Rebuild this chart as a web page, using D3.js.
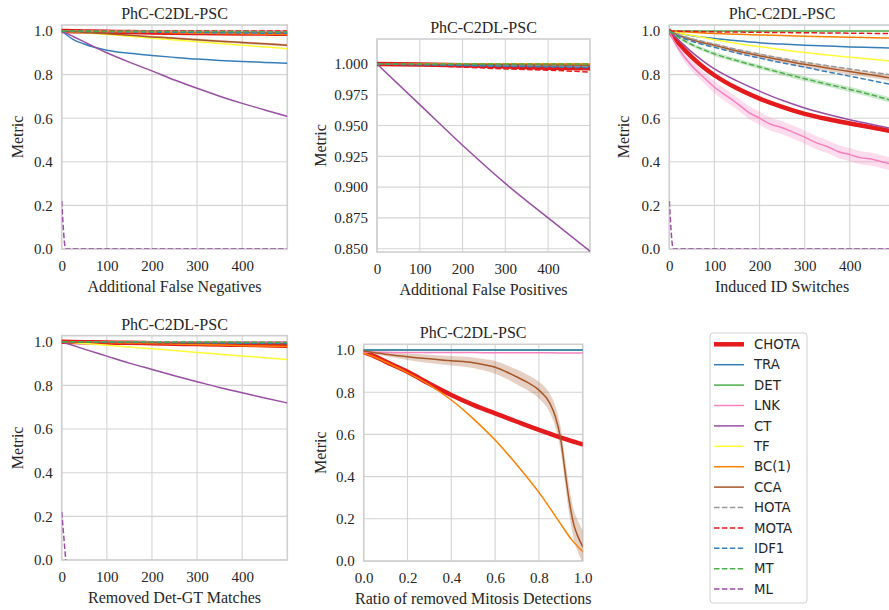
<!DOCTYPE html>
<html><head><meta charset="utf-8">
<script src="https://cdn.jsdelivr.net/npm/d3@7"></script>
<style>body{margin:0;background:#fff;} svg{display:block;}</style>
</head><body>
<svg id="c" width="889" height="610"></svg>
<script>
// ---------------- DATA ----------------
const metricNames = ["CHOTA","TRA","DET","LNK","CT","TF","BC(1)","CCA","HOTA","MOTA","IDF1","MT","ML"];
const panelTitle = "PhC-C2DL-PSC";

// Panel 1: Additional False Negatives
const fnX = [0,25,50,100,150,200,250,300,350,400,450,499];
const fnCHOTA = [1.0,0.999,0.998,0.996,0.995,0.993,0.992,0.991,0.990,0.989,0.988,0.987];
const fnTRA   = [1.0,0.962,0.940,0.912,0.898,0.888,0.879,0.871,0.865,0.860,0.856,0.852];
const fnDET   = [1.0,1.0,0.999,0.999,0.999,0.998,0.998,0.998,0.997,0.997,0.997,0.996];
const fnLNK   = [1.0,1.0,1.0,1.0,1.0,1.0,1.0,1.0,1.0,1.0,1.0,1.0];
const fnCT    = [1.0,0.975,0.950,0.900,0.857,0.817,0.775,0.737,0.701,0.668,0.638,0.609];
const fnTF    = [1.0,0.996,0.992,0.984,0.976,0.967,0.959,0.951,0.943,0.935,0.927,0.919];
const fnBC    = [1.0,0.999,0.998,0.997,0.995,0.994,0.992,0.990,0.989,0.987,0.986,0.984];
const fnCCA   = [1.0,0.997,0.993,0.987,0.980,0.973,0.967,0.960,0.953,0.947,0.941,0.935];
const fnCCAsd = [0,0.002,0.003,0.004,0.005,0.005,0.006,0.006,0.006,0.006,0.006,0.006];
const fnHOTA  = [1.0,0.999,0.999,0.998,0.997,0.996,0.995,0.994,0.993,0.993,0.992,0.991];
const fnMOTA  = [1.0,1.0,1.0,1.0,1.0,1.0,1.0,1.0,1.0,1.0,1.0,1.0];
const fnIDF1  = [1.0,0.999,0.998,0.997,0.996,0.995,0.994,0.993,0.992,0.991,0.990,0.989];
const fnMT    = [1.0,1.0,1.0,0.999,0.999,0.999,0.998,0.998,0.998,0.998,0.997,0.997];
const mlX = [0,9,499];
const mlY = [0.22,0,0];

// Panel 2: Additional False Positives
const fpX = [0,100,200,300,400,498];
const fpCHOTA = [1.0,0.9995,0.999,0.998,0.997,0.9965];
const fpTRA   = [1.0,0.9996,0.9992,0.9988,0.9984,0.998];
const fpDET   = [1.0,0.9999,0.9998,0.9997,0.9996,0.9995];
const fpLNK   = [1.0,1.0,1.0,1.0,1.0,1.0];
const fpCT    = [1.0,0.967,0.934,0.903,0.875,0.848];
const fpTF    = [1.0,1.0,1.0,1.0,1.0,1.0];
const fpBC    = [1.0,1.0,1.0,1.0,1.0,1.0];
const fpCCA   = [1.0,0.9998,0.9996,0.9994,0.9992,0.999];
const fpHOTA  = [1.0,0.9995,0.999,0.9986,0.9982,0.9978];
const fpMOTA  = [1.0,0.999,0.9975,0.996,0.995,0.9935];
const fpIDF1  = [1.0,0.9994,0.9988,0.9982,0.9976,0.997];
const fpMT    = [1.0,1.0,1.0,1.0,1.0,1.0];

// Panel 3: Induced ID Switches
const idsX = [0,10,25,50,75,100,150,200,250,300,350,400,450,499];
const idsCHOTA = [1.0,0.972,0.935,0.880,0.835,0.797,0.737,0.690,0.652,0.620,0.596,0.576,0.557,0.538];
const idsCHOTAsd=[0,0.004,0.006,0.007,0.008,0.008,0.008,0.009,0.009,0.009,0.009,0.009,0.009,0.009];
const idsTRA   = [1.0,0.995,0.988,0.978,0.971,0.966,0.955,0.946,0.940,0.935,0.931,0.927,0.924,0.921];
const idsDET   = [1.0,1.0,1.0,1.0,1.0,1.0,1.0,1.0,1.0,1.0,1.0,1.0,1.0,1.0];
const idsLNKx  = [0,10,25,50,75,100,125,150,175,200,225,250,275,300,325,350,375,400,425,450,475,499];
const idsLNK   = [1.0,0.955,0.905,0.840,0.790,0.742,0.705,0.668,0.628,0.600,0.572,0.556,0.535,0.513,0.488,0.470,0.446,0.433,0.418,0.412,0.398,0.386];
const idsLNKsd = [0,0.010,0.018,0.022,0.025,0.027,0.028,0.028,0.029,0.030,0.030,0.030,0.030,0.030,0.030,0.030,0.030,0.030,0.030,0.030,0.030,0.030];
const idsCT    = [1.0,0.980,0.950,0.903,0.862,0.826,0.771,0.724,0.682,0.647,0.618,0.593,0.571,0.550];
const idsTF    = [1.0,0.997,0.990,0.980,0.970,0.960,0.943,0.928,0.914,0.901,0.890,0.880,0.870,0.860];
const idsBC    = [1.0,0.999,0.997,0.994,0.991,0.989,0.985,0.982,0.979,0.976,0.974,0.971,0.969,0.967];
const idsCCA   = [1.0,0.990,0.977,0.960,0.946,0.934,0.908,0.886,0.866,0.847,0.830,0.814,0.798,0.782];
const idsCCAsd = [0,0.003,0.006,0.008,0.009,0.010,0.011,0.012,0.012,0.013,0.013,0.013,0.014,0.014];
const idsHOTA  = [1.0,0.992,0.980,0.965,0.952,0.940,0.915,0.894,0.874,0.857,0.841,0.826,0.811,0.797];
const idsMOTA  = [1.0,1.0,0.999,0.998,0.997,0.996,0.995,0.994,0.993,0.992,0.991,0.990,0.989,0.988];
const idsIDF1  = [1.0,0.988,0.972,0.953,0.938,0.925,0.899,0.876,0.854,0.834,0.813,0.793,0.772,0.752];
const idsMT    = [1.0,0.985,0.965,0.937,0.915,0.895,0.864,0.835,0.807,0.781,0.756,0.732,0.706,0.678];
const idsMTsd  = [0,0.003,0.006,0.008,0.009,0.010,0.010,0.010,0.011,0.011,0.011,0.012,0.012,0.012];

// Panel 4: Removed Det-GT Matches
const rmX = [0,50,100,150,200,250,300,350,400,450,499];
const rmCHOTA = [1.0,0.998,0.996,0.995,0.993,0.991,0.989,0.987,0.986,0.984,0.982];
const rmTRA   = [1.0,1.0,0.999,0.999,0.998,0.998,0.997,0.997,0.996,0.996,0.995];
const rmDET   = [1.0,1.0,0.999,0.999,0.999,0.998,0.998,0.998,0.997,0.997,0.997];
const rmLNK   = [1.0,1.0,1.0,1.0,1.0,1.0,1.0,1.0,1.0,1.0,1.0];
const rmCT    = [1.0,0.966,0.934,0.902,0.873,0.844,0.817,0.790,0.766,0.742,0.720];
const rmTF    = [1.0,0.992,0.984,0.976,0.968,0.960,0.951,0.943,0.935,0.927,0.918];
const rmBC    = [1.0,0.998,0.996,0.994,0.992,0.989,0.987,0.985,0.982,0.980,0.978];
const rmCCA   = [1.0,0.999,0.998,0.997,0.996,0.995,0.994,0.993,0.992,0.991,0.990];
const rmHOTA  = [1.0,1.0,0.999,0.999,0.998,0.998,0.997,0.997,0.996,0.996,0.995];
const rmMOTA  = [1.0,0.999,0.998,0.997,0.996,0.995,0.994,0.993,0.992,0.991,0.990];
const rmIDF1  = [1.0,0.999,0.998,0.998,0.997,0.996,0.995,0.994,0.993,0.993,0.992];
const rmMT    = [1.0,1.0,1.0,1.0,0.999,0.999,0.999,0.999,0.998,0.998,0.998];
const rmMLx = [0,9];
const rmMLy = [0.22,0];

// Panel 5: Ratio of removed Mitosis Detections
const mitX = [0,0.05,0.1,0.2,0.3,0.4,0.5,0.6,0.7,0.8,0.9,0.95,1.0];
const mitCHOTA = [0.990,0.970,0.945,0.897,0.840,0.787,0.740,0.700,0.660,0.621,0.585,0.568,0.553];
const mitTRA   = [1.0,1.0,1.0,1.0,1.0,1.0,1.0,1.0,1.0,1.0,1.0,1.0,1.0];
const mitDET   = [1.0,1.0,1.0,1.0,1.0,1.0,1.0,1.0,1.0,1.0,1.0,1.0,1.0];
const mitLNK   = [0.989,0.989,0.989,0.988,0.988,0.988,0.988,0.987,0.987,0.987,0.986,0.986,0.986];
const mitBC    = [0.985,0.967,0.943,0.893,0.835,0.763,0.675,0.573,0.455,0.325,0.175,0.100,0.045];
const mitCCAx  = [0,0.1,0.2,0.3,0.4,0.5,0.55,0.6,0.65,0.7,0.75,0.8,0.85,0.875,0.9,0.92,0.94,0.96,0.98,1.0];
const mitCCA   = [0.995,0.980,0.968,0.958,0.949,0.940,0.930,0.918,0.897,0.872,0.845,0.810,0.748,0.685,0.575,0.420,0.275,0.170,0.112,0.068];
const mitCCAsd = [0.005,0.010,0.015,0.020,0.022,0.025,0.027,0.030,0.032,0.035,0.037,0.040,0.045,0.050,0.055,0.060,0.065,0.070,0.075,0.075];

const ticks500 = [0,100,200,300,400];
const ticksUnit = [0,0.2,0.4,0.6,0.8,1.0];
const ticksFP = [0.850,0.875,0.900,0.925,0.950,0.975,1.000];

// ---------------- STYLE ----------------
const DASH = "5.5,2.4";
const style = {
  "CHOTA":{c:"#e41a1c",w:4.5}, "TRA":{c:"#377eb8",w:1.5}, "DET":{c:"#4daf4a",w:1.5},
  "LNK":{c:"#f781bf",w:1.5}, "CT":{c:"#984ea3",w:1.5}, "TF":{c:"#ffff33",w:1.5},
  "BC(1)":{c:"#ff7f00",w:1.5}, "CCA":{c:"#a65628",w:1.5}, "HOTA":{c:"#999999",w:1.5,d:DASH},
  "MOTA":{c:"#e41a1c",w:1.5,d:DASH}, "IDF1":{c:"#377eb8",w:1.5,d:DASH}, "MT":{c:"#4daf4a",w:1.5,d:DASH},
  "ML":{c:"#984ea3",w:1.5,d:DASH}
};
const TXT = "#262626";
const SERIF = "'Liberation Serif','Times New Roman',serif";

const svg = d3.select("#c");
let clipId = 0;

function panel(cfg){
  const g = svg.append("g");
  const x = d3.scaleLinear().domain(cfg.xd).range([cfg.l, cfg.l+cfg.w]);
  const y = d3.scaleLinear().domain(cfg.yd).range([cfg.t+cfg.h, cfg.t]);
  // grid
  g.append("g").selectAll("line").data(cfg.xt).join("line")
    .attr("x1",d=>x(d)).attr("x2",d=>x(d)).attr("y1",cfg.t).attr("y2",cfg.t+cfg.h)
    .attr("stroke","#d4d4d4").attr("stroke-width",1.1);
  g.append("g").selectAll("line").data(cfg.yt).join("line")
    .attr("y1",d=>y(d)).attr("y2",d=>y(d)).attr("x1",cfg.l).attr("x2",cfg.l+cfg.w)
    .attr("stroke","#d4d4d4").attr("stroke-width",1.1);
  // spines
  g.append("rect").attr("x",cfg.l).attr("y",cfg.t).attr("width",cfg.w).attr("height",cfg.h)
    .attr("fill","none").attr("stroke","#cfcfcf").attr("stroke-width",1.6);
  // clip
  const id = "clip"+(clipId++);
  svg.append("clipPath").attr("id",id).append("rect")
    .attr("x",cfg.l).attr("y",cfg.t-1).attr("width",cfg.w).attr("height",cfg.h+1);
  const pg = g.append("g").attr("clip-path",`url(#${id})`);
  cfg.series.forEach(s=>{
    const st = style[s.name];
    const pts = s.x.map((xv,i)=>({x:xv,y:s.y[i],sd:s.sd?s.sd[i]:0}));
    if (s.sd){
      pg.append("path").datum(pts)
        .attr("d", d3.area().x(d=>x(d.x)).y0(d=>y(d.y-d.sd)).y1(d=>y(d.y+d.sd)).curve(d3.curveMonotoneX))
        .attr("fill", st.c).attr("fill-opacity",0.28).attr("stroke","none");
    }
  });
  cfg.series.forEach(s=>{
    const st = style[s.name];
    const pts = s.x.map((xv,i)=>({x:xv,y:s.y[i]}));
    pg.append("path").datum(pts)
      .attr("d", d3.line().x(d=>x(d.x)).y(d=>y(d.y)).curve(d3.curveMonotoneX))
      .attr("fill","none").attr("stroke",st.c).attr("stroke-width",st.w)
      .attr("stroke-dasharray",st.d||null).attr("stroke-linecap", st.d?"butt":"round")
      .attr("stroke-linejoin","round");
  });
  // axes
  const ax = g.append("g").attr("transform",`translate(0,${cfg.t+cfg.h})`)
    .call(d3.axisBottom(x).tickValues(cfg.xt).tickFormat(cfg.xf).tickSize(0).tickPadding(11.5));
  const ay = g.append("g").attr("transform",`translate(${cfg.l},0)`)
    .call(d3.axisLeft(y).tickValues(cfg.yt).tickFormat(cfg.yf).tickSize(0).tickPadding(9));
  [ax,ay].forEach(a=>{
    a.select(".domain").remove();
    a.attr("font-family",SERIF).attr("font-size",15);
    a.selectAll("text").attr("font-family",SERIF).attr("font-size",15).attr("fill",TXT);
  });
  // title & labels
  g.append("text").attr("x",cfg.l+cfg.w/2).attr("y",cfg.t-6).attr("text-anchor","middle")
    .attr("font-family",SERIF).attr("font-size",16).attr("fill",TXT).text(cfg.title);
  g.append("text").attr("x",cfg.l+cfg.w/2).attr("y",cfg.t+cfg.h+43).attr("text-anchor","middle")
    .attr("font-family",SERIF).attr("font-size",16).attr("fill",TXT).text(cfg.xlabel);
  g.append("text").attr("transform",`translate(${cfg.l-cfg.ylo},${cfg.t+cfg.h/2}) rotate(-90)`)
    .attr("text-anchor","middle")
    .attr("font-family",SERIF).attr("font-size",16).attr("fill",TXT).text("Metric");
}

const f1 = d3.format(".1f"), f0 = d3.format("d"), f3 = d3.format(".3f");

panel({l:61.7,t:25,w:225.6,h:224,xd:[0,500],yd:[0,1.0275],xt:ticks500,yt:ticksUnit,xf:f0,yf:f1,
  title:panelTitle,xlabel:"Additional False Negatives",ylo:39,
  series:[
    {name:"CHOTA",x:fnX,y:fnCHOTA},{name:"TRA",x:fnX,y:fnTRA},{name:"DET",x:fnX,y:fnDET},
    {name:"LNK",x:fnX,y:fnLNK},{name:"CT",x:fnX,y:fnCT},{name:"TF",x:fnX,y:fnTF},
    {name:"BC(1)",x:fnX,y:fnBC},{name:"CCA",x:fnX,y:fnCCA,sd:fnCCAsd},{name:"HOTA",x:fnX,y:fnHOTA},
    {name:"MOTA",x:fnX,y:fnMOTA},{name:"IDF1",x:fnX,y:fnIDF1},{name:"MT",x:fnX,y:fnMT},
    {name:"ML",x:mlX,y:mlY}
  ]});

panel({l:377,t:39,w:213,h:213,xd:[0,498],yd:[0.8473,1.0203],xt:ticks500,yt:ticksFP,xf:f0,yf:f3,
  title:panelTitle,xlabel:"Additional False Positives",ylo:51,
  series:[
    {name:"CHOTA",x:fpX,y:fpCHOTA},{name:"TRA",x:fpX,y:fpTRA},{name:"DET",x:fpX,y:fpDET},
    {name:"LNK",x:fpX,y:fpLNK},{name:"CT",x:fpX,y:fpCT},{name:"TF",x:fpX,y:fpTF},
    {name:"BC(1)",x:fpX,y:fpBC},{name:"CCA",x:fpX,y:fpCCA},{name:"HOTA",x:fpX,y:fpHOTA},
    {name:"MOTA",x:fpX,y:fpMOTA},{name:"IDF1",x:fpX,y:fpIDF1},{name:"MT",x:fpX,y:fpMT}
  ]});

panel({l:669.3,t:25,w:225.6,h:224,xd:[0,500],yd:[0,1.0275],xt:ticks500,yt:ticksUnit,xf:f0,yf:f1,
  title:panelTitle,xlabel:"Induced ID Switches",ylo:40,
  series:[
    {name:"CHOTA",x:idsX,y:idsCHOTA,sd:idsCHOTAsd},{name:"TRA",x:idsX,y:idsTRA},{name:"DET",x:idsX,y:idsDET},
    {name:"LNK",x:idsLNKx,y:idsLNK,sd:idsLNKsd},{name:"CT",x:idsX,y:idsCT},{name:"TF",x:idsX,y:idsTF},
    {name:"BC(1)",x:idsX,y:idsBC},{name:"CCA",x:idsX,y:idsCCA,sd:idsCCAsd},{name:"HOTA",x:idsX,y:idsHOTA},
    {name:"MOTA",x:idsX,y:idsMOTA},{name:"IDF1",x:idsX,y:idsIDF1},{name:"MT",x:idsX,y:idsMT,sd:idsMTsd},
    {name:"ML",x:mlX,y:mlY}
  ]});

panel({l:61.7,t:335.7,w:225.6,h:224.3,xd:[0,500],yd:[0,1.0275],xt:ticks500,yt:ticksUnit,xf:f0,yf:f1,
  title:panelTitle,xlabel:"Removed Det-GT Matches",ylo:38.5,
  series:[
    {name:"CHOTA",x:rmX,y:rmCHOTA},{name:"TRA",x:rmX,y:rmTRA},{name:"DET",x:rmX,y:rmDET},
    {name:"LNK",x:rmX,y:rmLNK},{name:"CT",x:rmX,y:rmCT},{name:"TF",x:rmX,y:rmTF},
    {name:"BC(1)",x:rmX,y:rmBC},{name:"CCA",x:rmX,y:rmCCA},{name:"HOTA",x:rmX,y:rmHOTA},
    {name:"MOTA",x:rmX,y:rmMOTA},{name:"IDF1",x:rmX,y:rmIDF1},{name:"MT",x:rmX,y:rmMT},
    {name:"ML",x:rmMLx,y:rmMLy}
  ]});

panel({l:363.7,t:344.3,w:219,h:216.7,xd:[0,1],yd:[0,1.027],xt:ticksUnit,yt:ticksUnit,xf:f1,yf:f1,
  title:panelTitle,xlabel:"Ratio of removed Mitosis Detections",ylo:38,
  series:[
    {name:"CHOTA",x:mitX,y:mitCHOTA},{name:"DET",x:mitX,y:mitDET},{name:"TRA",x:mitX,y:mitTRA},
    {name:"LNK",x:mitX,y:mitLNK},{name:"BC(1)",x:mitX,y:mitBC},
    {name:"CCA",x:mitCCAx,y:mitCCA,sd:mitCCAsd}
  ]});

// ---------------- LEGEND ----------------
const leg = svg.append("g");
leg.append("rect").attr("x",710).attr("y",333).attr("width",97).attr("height",270).attr("rx",3)
  .attr("fill","#fff").attr("stroke","#d0d0d0").attr("stroke-width",1);
const items = leg.selectAll("g.it").data(metricNames).join("g").attr("class","it")
  .attr("transform",(d,i)=>`translate(0,${344.3+i*20.4})`);
items.append("line").attr("x1",714).attr("x2",744).attr("y1",0).attr("y2",0)
  .attr("stroke",d=>style[d].c).attr("stroke-width",d=>style[d].w)
  .attr("stroke-dasharray",d=>style[d].d||null);
items.append("text").attr("x",754).attr("y",0).attr("dy","0.36em")
  .attr("font-family","'DejaVu Sans',sans-serif").attr("font-size",13.3).attr("fill",TXT)
  .text(d=>d);
</script>
</body></html>
